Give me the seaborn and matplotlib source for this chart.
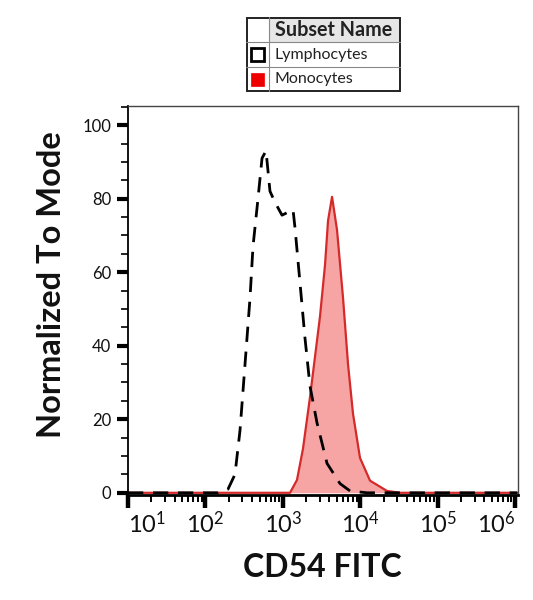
import numpy as np
import pandas as pd
import matplotlib
matplotlib.use("Agg")
import matplotlib.pyplot as plt
import seaborn as sns
from matplotlib.patches import Rectangle
from matplotlib.ticker import FixedLocator, LogLocator, NullFormatter, MultipleLocator

# ---------------- data ----------------
subset_names = ["Lymphocytes", "Monocytes"]

lymph_x = [10, 145, 196, 241, 280, 325, 377, 412, 478, 539, 607, 683, 793, 977,
           1355, 1438, 1669, 1936, 2245, 2767, 3725, 5483, 7382, 12240, 1.07e6]
lymph_y = [0, 0, 1, 5, 17, 35, 53, 67, 80, 91, 93, 82, 79, 75.5,
           77, 72, 57, 42, 29, 19, 8, 2.5, 0.5, 0, 0]

mono_x = [10, 1239, 1525, 1823, 2245, 2606, 3025, 3511, 3839, 4325, 5016, 5998,
          6957, 8070, 9935, 13390, 22200, 32660, 1.07e6]
mono_y = [0, 0, 3.5, 12, 26, 37, 48, 62, 74, 80.5, 71.5, 53,
          35, 21.5, 9.5, 3.3, 0.5, 0, 0]

x_decades = [1, 2, 3, 4, 5, 6]
y_ticks = [0, 20, 40, 60, 80, 100]

lymph_df = pd.DataFrame({"x": lymph_x, "y": lymph_y})
mono_df = pd.DataFrame({"x": mono_x, "y": mono_y})

# ---------------- style ----------------
sns.set_theme(style="white")
plt.rcParams["font.family"] = ["Lato", "DejaVu Sans"]
plt.rcParams["mathtext.fontset"] = "custom"
plt.rcParams["mathtext.rm"] = "Lato"
plt.rcParams["mathtext.it"] = "Lato:italic"
plt.rcParams["mathtext.bf"] = "Lato:bold"

W, H = 533, 600
fig = plt.figure(figsize=(W / 100, H / 100), dpi=100)
ax = fig.add_axes([128 / W, 1 - 495 / H, (517.5 - 128) / W, (495 - 106) / H])

fill_color = "#f6a4a4"
edge_color = "#d42a2a"

ax.fill_between(mono_df["x"], mono_df["y"], 0, color=fill_color, lw=0, zorder=1)
sns.lineplot(data=mono_df, x="x", y="y", ax=ax, color=edge_color, lw=1.6,
             sort=False, estimator=None, zorder=2)
sns.lineplot(data=lymph_df, x="x", y="y", ax=ax, color="black", lw=2.0,
             sort=False, estimator=None, zorder=3, dashes=False)
ax.lines[-1].set_dashes((5.5, 3.5))

ax.set_xscale("log")
ax.set_xlim(10, 10 ** 6.032)
ax.set_ylim(-0.6, 105.2)

# x ticks
ax.xaxis.set_major_locator(FixedLocator([10.0 ** d for d in x_decades]))
ax.xaxis.set_minor_locator(LogLocator(base=10, subs=np.arange(2, 10)))
ax.xaxis.set_minor_formatter(NullFormatter())
ax.set_xticklabels([r"$\mathregular{10^{%d}}$" % d for d in x_decades], fontsize=17)
xt = ax.get_xticklabels()
xt[0].set_ha("left")
xt[-1].set_ha("right")

# y ticks
ax.yaxis.set_major_locator(FixedLocator(y_ticks))
ax.yaxis.set_minor_locator(MultipleLocator(5))
ax.set_yticklabels([str(v) for v in y_ticks], fontsize=12)

ax.tick_params(axis="x", which="major", direction="out", length=9, width=3.2,
               color="black", pad=2, bottom=True)
ax.tick_params(axis="x", which="minor", direction="out", length=5, width=1.4,
               color="black", bottom=True)
ax.tick_params(axis="y", which="major", direction="out", length=8, width=3.0,
               color="black", pad=4, left=True)
ax.tick_params(axis="y", which="minor", direction="out", length=5, width=1.2,
               color="black", left=True)
ax.tick_params(labelcolor="#111111")

for side in ["left", "bottom"]:
    ax.spines[side].set_color("black")
ax.spines["left"].set_linewidth(1.3)
ax.spines["bottom"].set_linewidth(2.0)
for side in ["top", "right"]:
    ax.spines[side].set_color("#444444")
    ax.spines[side].set_linewidth(1.0)

ax.set_xlabel("CD54 FITC", fontsize=23, fontweight="bold", labelpad=12, color="#111111")
ax.set_ylabel("Normalized To Mode", fontsize=23.5, fontweight="bold", color="#111111")
ax.yaxis.set_label_coords(-0.158, 0.54)
ax.grid(False)

# ---------------- legend table ----------------
lx0, ly0, lw_, lh_ = 246, 17, 155, 75
lax = fig.add_axes([lx0 / W, 1 - (ly0 + lh_) / H, lw_ / W, lh_ / H])
lax.set_xlim(0, lw_)
lax.set_ylim(lh_, 0)
lax.axis("off")
row_h = lh_ / 3
col1 = 23
lax.add_patch(Rectangle((col1, 0), lw_ - col1, row_h, facecolor="#e6e6e6", edgecolor="none"))
for i in range(1, 3):
    lax.plot([0, lw_], [i * row_h, i * row_h], color="#888888", lw=0.8)
lax.plot([col1, col1], [0, lh_], color="#888888", lw=0.8)
lax.add_patch(Rectangle((0.6, 0.6), lw_ - 1.2, lh_ - 1.2, facecolor="none",
                        edgecolor="#222222", lw=1.4))
lax.text(col1 + 6, row_h * 0.5, "Subset Name", fontsize=14.2, fontweight="bold",
         va="center", ha="left", color="#222222")
styles = [dict(facecolor="white", edgecolor="black", lw=2.0),
          dict(facecolor="#ee0000", edgecolor="#ee0000", lw=0.5)]
for i, (name, st) in enumerate(zip(subset_names, styles)):
    cy = row_h * (i + 1.5)
    lax.add_patch(Rectangle((5, cy - 6.2), 12.5, 12.5, **st))
    lax.text(col1 + 6, cy, name, fontsize=11.5, va="center", ha="left", color="#222222")

fig.savefig("out.png", dpi=100)
